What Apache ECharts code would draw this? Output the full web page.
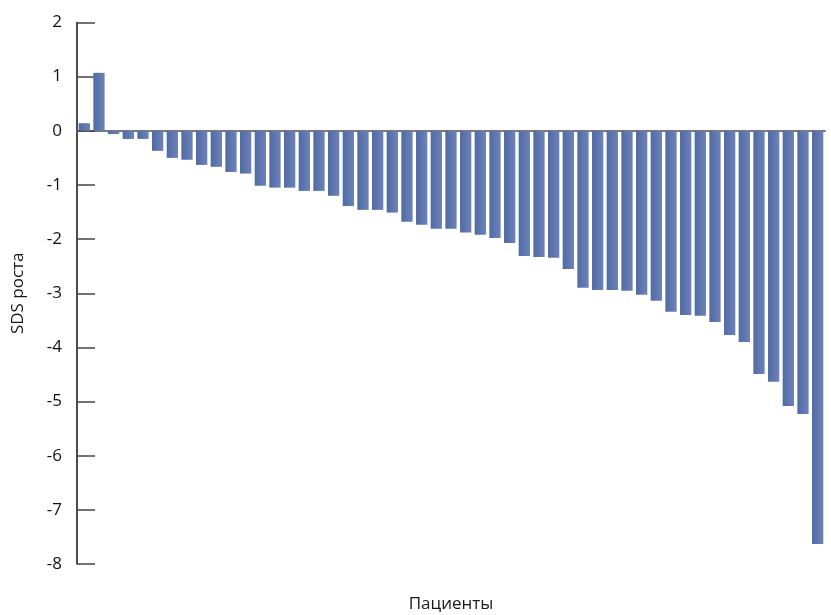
<!DOCTYPE html>
<html>
<head>
<meta charset="utf-8">
<script src="https://cdn.jsdelivr.net/npm/echarts@6/dist/echarts.min.js"></script>
<style>html,body{margin:0;padding:0;background:#fff}#c{width:831px;height:615px}</style>
</head>
<body>
<div id="c"></div>
<script>
const patients = Array.from({length: 51}, (_, i) => String(i + 1));
const sdsValues = [
  0.14, 1.07, -0.06, -0.15, -0.15, -0.37, -0.50, -0.535, -0.63, -0.665,
  -0.76, -0.79, -1.015, -1.05, -1.05, -1.11, -1.11, -1.20, -1.39, -1.46,
  -1.46, -1.51, -1.68, -1.735, -1.81, -1.81, -1.88, -1.92, -1.98, -2.07,
  -2.31, -2.33, -2.345, -2.55, -2.90, -2.94, -2.94, -2.955, -3.03, -3.14,
  -3.34, -3.40, -3.415, -3.53, -3.77, -3.90, -4.49, -4.635, -5.08, -5.23,
  -7.63
];
const yTicks = [-8, -7, -6, -5, -4, -3, -2, -1, 0, 1, 2];

const chart = echarts.init(document.getElementById('c'));
const font = '"Open Sans", "Noto Sans", sans-serif';
chart.setOption({
  animation: false,
  grid: {left: 77, right: 6, top: 22.5, bottom: 51, containLabel: false, outerBoundsMode: 'none'},
  xAxis: {
    type: 'category',
    data: patients,
    name: 'Пациенты',
    nameLocation: 'middle',
    nameGap: 32,
    nameTextStyle: {fontFamily: font, fontSize: 17, color: '#1a1a1a'},
    axisLine: {onZero: true, lineStyle: {color: '#7a7a7a', width: 2}},
    axisTick: {show: false},
    axisLabel: {show: false},
    splitLine: {show: false}
  },
  yAxis: {
    type: 'value',
    min: yTicks[0],
    max: yTicks[yTicks.length - 1],
    interval: 1,
    name: 'SDS роста',
    nameLocation: 'middle',
    nameGap: 50,
    nameTextStyle: {fontFamily: font, fontSize: 17, color: '#1a1a1a'},
    axisLine: {show: true, lineStyle: {color: '#111', width: 1.5}},
    axisTick: {show: true, inside: true, length: 18, lineStyle: {color: '#444', width: 1.5}},
    axisLabel: {fontFamily: font, fontSize: 17, color: '#111', margin: 15},
    splitLine: {show: false}
  },
  series: [{
    type: 'bar',
    data: sdsValues,
    barCategoryGap: '23%',
    itemStyle: {
      color: new echarts.graphic.LinearGradient(0, 0, 1, 0, [
        {offset: 0, color: '#4f6aa6'},
        {offset: 1, color: '#6e83b7'}
      ])
    }
  }]
});
</script>
</body>
</html>
